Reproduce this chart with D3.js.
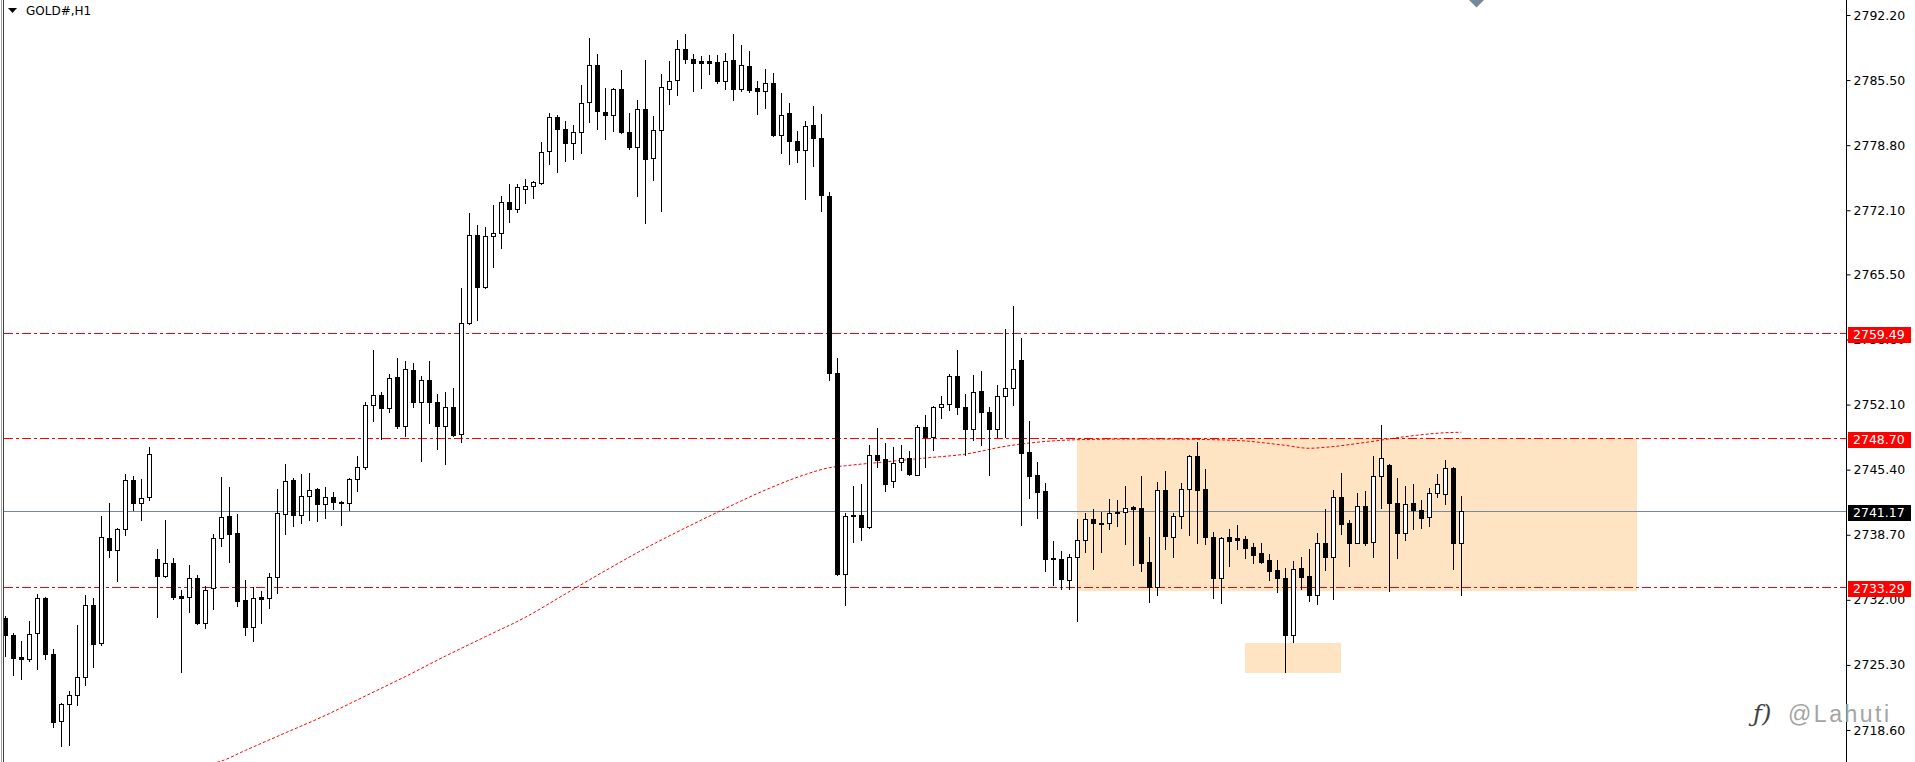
<!DOCTYPE html>
<html><head><meta charset="utf-8">
<script src="https://cdn.jsdelivr.net/npm/d3@7"></script>
<style>html,body{margin:0;padding:0;background:#fff;overflow:hidden}</style>
</head><body>
<svg id="chart" width="1915" height="762"></svg>
<script>
const chartTitle = "GOLD#,H1";
const opens = [
2730.1,2728.4,2726.1,2725.9,2728.6,2732.2,2726.4,2719.5,2721.3,2722.2,
2724.1,2731.5,2727.6,2738.4,2737.1,2739.3,2744.3,2742.0,2742.6,2736.2,
2734.5,2735.8,2732.4,2732.3,2734.2,2729.6,2733.2,2738.4,2740.6,2738.9,
2732.0,2729.2,2732.3,2732.2,2734.3,2740.8,2744.3,2740.7,2742.7,2743.4,
2741.9,2742.6,2742.1,2742.0,2744.4,2745.7,2752.1,2753.1,2751.7,2754.9,
2749.9,2755.7,2752.4,2754.6,2752.4,2749.9,2751.8,2749.1,2760.5,2769.6,
2764.2,2769.4,2769.8,2773.0,2772.2,2774.3,2774.6,2774.9,2778.2,2781.7,
2780.5,2779.0,2780.2,2783.2,2787.1,2782.2,2781.9,2784.6,2780.2,2778.6,
2782.5,2777.5,2780.4,2784.6,2785.5,2788.7,2787.7,2787.5,2787.5,2787.4,
2785.4,2787.6,2784.6,2786.9,2784.7,2784.4,2785.2,2779.8,2782.1,2779.2,
2778.3,2780.9,2779.5,2773.6,2755.3,2734.7,2740.7,2740.7,2739.5,2746.9,
2746.5,2744.2,2746.2,2746.6,2744.9,2749.8,2748.8,2751.8,2752.2,2755.0,
2751.9,2749.6,2753.5,2751.3,2749.6,2753.0,2753.8,2756.7,2747.2,2744.8,
2743.2,2736.3,2736.2,2734.0,2736.4,2738.2,2740.3,2739.8,2739.9,2741.0,
2741.0,2741.6,2741.5,2735.9,2733.3,2743.3,2738.5,2740.6,2743.4,2746.8,
2743.4,2738.5,2734.2,2738.5,2738.4,2738.3,2737.4,2736.8,2736.1,2735.1,
2734.2,2728.4,2735.3,2734.5,2732.5,2737.8,2736.4,2742.6,2739.9,2737.9,
2741.7,2738.0,2744.7,2745.9,2742.0,2738.9,2742.0,2741.2,2740.5,2743.0,
2742.9,2745.6,2737.9];
const highs = [
2730.3,2728.6,2727.8,2729.8,2732.6,2732.3,2726.9,2721.4,2722.6,2729.4,
2732.5,2732.2,2740.6,2742.0,2739.4,2745.0,2744.7,2744.4,2747.7,2737.2,
2740.2,2736.3,2733.0,2735.6,2734.6,2733.4,2738.8,2744.6,2743.6,2740.8,
2734.0,2733.3,2732.9,2734.8,2743.4,2746.0,2744.5,2745.0,2745.1,2743.5,
2743.6,2743.1,2742.2,2744.5,2746.8,2752.4,2757.7,2753.4,2755.2,2756.9,
2756.6,2756.4,2755.0,2756.6,2753.2,2753.4,2753.8,2764.1,2771.8,2770.6,
2770.4,2772.6,2773.6,2774.8,2774.8,2775.3,2775.1,2779.1,2782.1,2781.9,
2781.3,2780.9,2785.0,2789.8,2788.2,2784.7,2784.7,2786.5,2782.1,2783.4,
2787.6,2781.8,2786.1,2787.5,2789.6,2790.2,2788.2,2788.0,2788.1,2788.1,
2788.3,2790.2,2789.1,2788.5,2785.4,2786.6,2786.2,2784.2,2783.1,2780.3,
2781.3,2782.8,2782.0,2774.0,2756.9,2740.9,2743.7,2743.9,2747.9,2749.7,
2748.1,2747.7,2747.9,2747.3,2750.0,2751.0,2752.0,2753.0,2755.2,2757.7,
2753.2,2755.1,2755.6,2751.8,2754.1,2759.9,2762.2,2758.9,2750.4,2746.2,
2744.0,2738.1,2737.0,2736.7,2740.3,2740.9,2741.3,2741.0,2742.4,2742.3,
2743.7,2741.7,2744.7,2738.5,2744.1,2745.3,2740.9,2744.0,2746.9,2748.2,
2745.5,2739.0,2738.5,2739.3,2739.7,2738.6,2737.9,2737.8,2736.7,2736.1,
2735.3,2736.0,2736.4,2737.2,2738.9,2741.4,2743.3,2745.1,2740.2,2743.0,
2743.2,2746.8,2750.0,2746.0,2744.5,2743.7,2743.9,2742.3,2743.5,2745.0,
2746.4,2745.7,2742.7];
const lows = [
2726.2,2724.3,2723.9,2725.7,2724.9,2725.9,2718.9,2717.0,2717.1,2721.2,
2723.2,2725.1,2727.4,2736.4,2733.9,2738.7,2741.2,2740.2,2742.3,2730.2,
2734.3,2732.1,2724.6,2730.7,2729.5,2729.1,2731.1,2737.5,2735.9,2731.4,
2728.4,2727.8,2729.6,2731.2,2732.7,2738.8,2739.6,2739.9,2740.2,2740.1,
2740.4,2741.4,2739.7,2741.2,2743.2,2745.5,2750.4,2748.6,2751.3,2749.7,
2748.9,2751.9,2746.3,2750.2,2747.5,2746.0,2748.9,2748.2,2760.4,2760.8,
2764.1,2766.3,2768.2,2770.9,2771.9,2772.8,2773.4,2774.8,2776.9,2776.0,
2777.2,2777.4,2778.0,2781.2,2780.5,2779.4,2780.3,2780.1,2778.4,2773.6,
2770.8,2775.2,2772.0,2783.0,2784.0,2787.3,2784.4,2784.7,2786.1,2785.2,
2784.6,2783.5,2784.4,2784.3,2782.0,2782.6,2779.7,2778.0,2776.9,2777.1,
2773.3,2776.7,2772.0,2754.6,2734.6,2731.5,2738.0,2738.2,2739.4,2745.7,
2743.2,2743.6,2745.4,2744.8,2744.8,2745.7,2747.4,2750.7,2751.5,2751.1,
2746.9,2748.5,2747.9,2744.8,2748.8,2748.8,2752.1,2739.7,2742.5,2740.4,
2735.0,2733.5,2733.1,2733.1,2729.8,2736.9,2735.2,2736.9,2739.3,2739.6,
2737.7,2735.6,2735.0,2731.8,2732.5,2737.2,2736.4,2739.4,2738.7,2737.9,
2737.7,2732.2,2731.7,2735.5,2737.2,2736.3,2735.8,2735.8,2734.0,2732.8,
2724.6,2727.7,2733.1,2731.9,2731.6,2735.1,2732.1,2738.8,2735.5,2737.8,
2737.6,2736.4,2741.5,2732.9,2736.3,2738.2,2739.3,2739.4,2739.6,2742.6,
2741.9,2735.2,2732.5];
const closes = [
2728.4,2726.0,2725.9,2728.5,2732.2,2726.4,2719.4,2721.3,2722.2,2724.1,
2731.5,2727.5,2738.5,2737.1,2739.3,2744.3,2742.0,2742.5,2747.0,2734.5,
2735.8,2732.3,2732.2,2734.2,2729.6,2733.0,2738.4,2740.5,2738.8,2731.9,
2729.2,2732.2,2732.1,2734.3,2740.9,2744.2,2740.7,2742.7,2743.3,2741.9,
2742.6,2742.1,2742.0,2744.4,2745.7,2752.1,2753.1,2751.7,2754.8,2749.9,
2755.8,2752.4,2754.6,2752.4,2749.9,2751.8,2749.0,2760.5,2769.6,2764.2,
2769.4,2769.8,2773.0,2772.2,2774.5,2774.6,2775.0,2778.1,2781.7,2780.5,
2779.0,2780.2,2783.1,2787.1,2782.3,2781.9,2784.6,2780.2,2778.6,2782.5,
2777.4,2780.4,2784.8,2785.4,2788.7,2787.7,2787.3,2787.3,2787.3,2785.4,
2787.5,2784.6,2787.1,2784.5,2784.4,2785.2,2779.8,2781.9,2779.2,2778.3,
2780.8,2779.5,2773.7,2755.3,2734.7,2740.6,2740.6,2739.5,2746.9,2746.4,
2743.9,2746.1,2746.6,2745.0,2749.8,2748.8,2751.8,2752.2,2755.0,2751.9,
2749.6,2753.4,2751.3,2749.6,2753.0,2753.8,2755.8,2747.1,2744.7,2743.1,
2736.2,2736.2,2734.1,2736.4,2738.2,2740.3,2739.9,2739.9,2740.9,2740.9,
2741.5,2741.4,2735.8,2733.3,2743.3,2738.6,2740.6,2743.4,2746.8,2743.3,
2738.5,2734.2,2738.4,2738.1,2738.2,2737.3,2736.6,2735.9,2735.0,2734.2,
2728.4,2735.2,2734.4,2732.5,2737.8,2736.4,2742.6,2739.8,2737.9,2741.7,
2737.9,2744.7,2746.6,2742.0,2738.9,2741.9,2741.2,2740.4,2743.0,2743.9,
2745.6,2737.9,2741.17];
const maIndex = [24,27,30,35,40,45,50,55,60,65,70,75,80,85,90,95,100,103,105,110,115,120,125,130,135,140,145,150,155,160,163,165,170,175,180,182];
const maValue = [2714.9,2715.4,2716.5,2718.3,2720.1,2722.1,2724.1,2726.2,2728.2,2730.2,2732.6,2735.0,2737.3,2739.4,2741.4,2743.3,2744.9,2745.6,2745.8,2746.2,2746.6,2747.0,2747.8,2748.3,2748.5,2748.55,2748.55,2748.5,2748.35,2747.9,2747.6,2747.7,2748.2,2748.8,2749.2,2749.25];
const redLevels = [2759.49, 2748.70, 2733.29];
const bidLevel = 2741.17;
const tickLabels = ["2792.20","2785.50","2778.80","2772.10","2765.50","2758.80","2752.10","2745.40","2738.70","2732.00","2725.30","2718.60"];
const zoneBig = {t0:134, t1:204, top:2748.70, bottom:2732.9};
const zoneSmall = {t0:155, t1:167, top:2727.6, bottom:2724.5};
const watermark = "@Lahuti";

const W = 1915, H = 762, axisX = 1846;
const svg = d3.select("#chart");
const x = d3.scaleLinear().domain([0, 230]).range([5.3, 5.3 + 8 * 230]);
const y = d3.scaleLinear().domain([2718.60, 2792.20]).range([730, 15]);
const font = "'DejaVu Sans', Verdana, sans-serif";

svg.append("rect").attr("width", W).attr("height", H).attr("fill", "#fff");
svg.append("defs").append("clipPath").attr("id", "plot")
  .append("rect").attr("x", 4).attr("y", 0).attr("width", axisX - 4).attr("height", H);
const plot = svg.append("g").attr("clip-path", "url(#plot)");

// zones
[zoneBig, zoneSmall].forEach(z => {
  plot.append("rect")
    .attr("x", Math.round(x(z.t0))).attr("y", Math.round(y(z.top)))
    .attr("width", Math.round(x(z.t1)) - Math.round(x(z.t0)))
    .attr("height", Math.round(y(z.bottom)) - Math.round(y(z.top)))
    .attr("fill", "#FFE4C4");
});

// bid line
plot.append("line").attr("x1", 4).attr("x2", axisX)
  .attr("y1", Math.round(y(bidLevel)) + 0.5).attr("y2", Math.round(y(bidLevel)) + 0.5)
  .attr("stroke", "#778899").attr("stroke-width", 1);

// red levels
plot.selectAll("line.lvl").data(redLevels).join("line").attr("class", "lvl")
  .attr("x1", 4).attr("x2", axisX)
  .attr("y1", d => Math.round(y(d)) + 0.5).attr("y2", d => Math.round(y(d)) + 0.5)
  .attr("stroke", "#ff0000").attr("stroke-width", 1).attr("stroke-dasharray", "9,3,3,3");

// moving average
const maData = maIndex.map((k, i) => [k, maValue[i]]);
plot.append("path").datum(maData)
  .attr("d", d3.line().x(d => x(d[0])).y(d => y(d[1])).curve(d3.curveMonotoneX))
  .attr("fill", "none").attr("stroke", "#ff0000").attr("stroke-width", 1)
  .attr("stroke-dasharray", "3,2");

// candles
const candles = opens.map((o, i) => ({i, o, h: highs[i], l: lows[i], c: closes[i]}));
const cg = plot.append("g");
candles.forEach(d => {
  const cx = Math.floor(x(d.i)) + 0.5;
  const yh = Math.round(y(d.h)), yl = Math.round(y(d.l));
  const top = Math.round(y(Math.max(d.o, d.c))), bot = Math.round(y(Math.min(d.o, d.c)));
  cg.append("line").attr("x1", cx).attr("x2", cx).attr("y1", yh).attr("y2", yl + 1)
    .attr("stroke", "#000").attr("stroke-width", 1);
  if (d.c > d.o) {
    cg.append("rect").attr("x", cx - 2).attr("y", top + 0.5)
      .attr("width", 4).attr("height", Math.max(bot - top, 1))
      .attr("fill", "#fff").attr("stroke", "#000").attr("stroke-width", 1);
  } else {
    cg.append("rect").attr("x", cx - 2.5).attr("y", top)
      .attr("width", 5).attr("height", Math.max(bot - top + 1, 2))
      .attr("fill", "#000");
  }
});

// left border
svg.append("line").attr("x1", 1.5).attr("x2", 1.5).attr("y1", 0).attr("y2", H).attr("stroke", "#a0a0a0");
svg.append("line").attr("x1", 3.5).attr("x2", 3.5).attr("y1", 0).attr("y2", H).attr("stroke", "#404040");

// price axis
const axis = d3.axisRight(y).tickValues(tickLabels.map(Number))
  .tickFormat((d, i) => tickLabels[i]).tickSize(4).tickPadding(3);
const ag = svg.append("g").attr("transform", `translate(${axisX + 0.5},0)`).call(axis);
ag.select(".domain").remove();
ag.selectAll("text").attr("font-family", font).attr("font-size", "12.5px").attr("fill", "#000");
ag.selectAll("line").attr("stroke", "#000");
svg.append("line").attr("x1", axisX + 0.5).attr("x2", axisX + 0.5).attr("y1", 0).attr("y2", H)
  .attr("stroke", "#000");

// level price labels
const lbl = redLevels.map(v => ({v, bg: "#ff0000"})).concat([{v: bidLevel, bg: "#000"}]);
lbl.forEach(d => {
  const cy = Math.round(y(d.v)) + 2;
  svg.append("rect").attr("x", axisX + 2).attr("y", cy - 8).attr("width", 63).attr("height", 16).attr("fill", d.bg);
  svg.append("text").attr("x", axisX + 7).attr("y", cy).attr("dy", "0.35em")
    .attr("font-family", font).attr("font-size", "12.5px").attr("fill", "#fff")
    .text(d3.format(".2f")(d.v));
});

// title
svg.append("path").attr("d", "M8,8 L17,8 L12.5,13 Z").attr("fill", "#000");
svg.append("text").attr("x", 26).attr("y", 15).attr("font-family", font).attr("font-size", "12px")
  .attr("fill", "#000").text(chartTitle);

// top marker
svg.append("path").attr("d", "M1469,0 L1484,0 L1476.5,7.5 Z").attr("fill", "#778899");

// watermark
svg.append("text").attr("x", 1753).attr("y", 722).attr("font-family", "'DejaVu Serif', serif")
  .attr("font-style", "italic").attr("font-size", "24px").attr("fill", "#222").attr("opacity", 0.85).text("ƒ)");
svg.append("text").attr("x", 1788).attr("y", 722).attr("font-family", "'Liberation Sans', Arial, sans-serif")
  .attr("font-size", "23px").attr("letter-spacing", "2.5px").attr("fill", "#a4a4a4")
  .text(watermark);
</script>
</body></html>
